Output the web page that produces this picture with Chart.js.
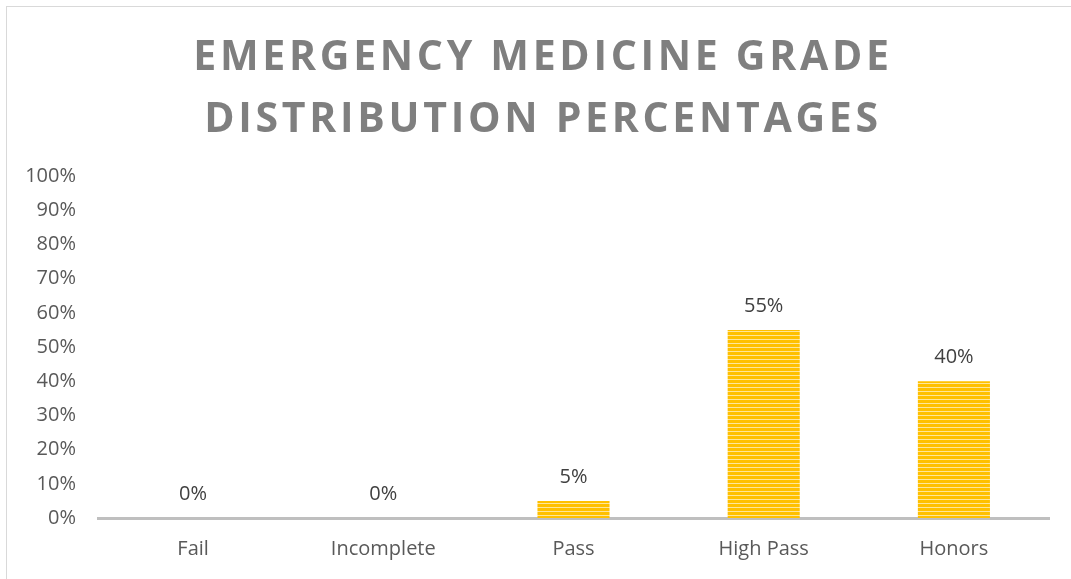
<!DOCTYPE html>
<html>
<head>
<meta charset="utf-8">
<script src="https://cdn.jsdelivr.net/npm/chart.js@4.4.0/dist/chart.umd.min.js"></script>
<style>
    html, body { margin: 0; padding: 0; background: #fff; overflow: hidden; }
    #frame { position: absolute; left: 6px; top: 6px; width: 1100px; height: 600px; border: 1px solid #d9d9d9; }
    #wrap { position: absolute; left: 0; top: 0; width: 1071px; height: 579px; }
</style>
</head>
<body>
<div id="frame"></div>
<div id="wrap"><canvas id="grap" width="1071" height="579"></canvas></div>
<script>
const titulo = ["EMERGENCY MEDICINE GRADE", "DISTRIBUTION PERCENTAGES"]
const notas = ["Fail", "Incomplete", "Pass", "High Pass", "Honors"]
const percentuais = [0, 0, 5, 55, 40]
const ticksY = [0, 10, 20, 30, 40, 50, 60, 70, 80, 90, 100]

// listras horizontais das barras
function criarListras(ctx) {
    const c = document.createElement('canvas')
    c.width = 4
    c.height = 4
    const p = c.getContext('2d')
    p.fillStyle = '#ffc000'
    p.fillRect(0, 0, 4, 4)
    p.fillStyle = '#ffe699'
    p.fillRect(0, 3, 4, 1)
    return ctx.createPattern(c, 'repeat')
}

const tituloPlugin = {
    id: 'tituloEspacado',
    afterDraw(chart) {
        const ctx = chart.ctx
        ctx.save()
        ctx.font = 'bold 41px "Open Sans"'
        ctx.fillStyle = '#7f7f7f'
        ctx.textAlign = 'center'
        ctx.textBaseline = 'middle'
        ctx.letterSpacing = '3.7px'
        titulo.forEach((linha, i) => {
            ctx.fillText(linha, 543, 58 + i * 62)
        })
        ctx.restore()
    }
}

const rotulosPlugin = {
    id: 'rotulos',
    afterDatasetsDraw(chart) {
        const ctx = chart.ctx
        const meta = chart.getDatasetMeta(0)
        ctx.save()
        ctx.font = '20px "Open Sans"'
        ctx.fillStyle = '#404040'
        ctx.textAlign = 'center'
        ctx.textBaseline = 'middle'
        meta.data.forEach((bar, i) => {
            ctx.fillText(percentuais[i] + '%', bar.x, bar.y - 24)
        })
        ctx.restore()
    }
}

function criarGraf() {
    const ctx = document.getElementById('grap').getContext('2d')

    new Chart(ctx, {
        type: 'bar',
        data: {
            labels: notas,
            datasets: [{
                data: percentuais,
                backgroundColor: criarListras(ctx),
                borderWidth: 0,
                barPercentage: 0.379,
                categoryPercentage: 1
            }]
        },
        plugins: [tituloPlugin, rotulosPlugin],
        options: {
            responsive: false,
            maintainAspectRatio: false,
            animation: false,
            layout: {
                padding: { top: 176, right: 22, bottom: 0, left: 0 }
            },
            plugins: {
                legend: { display: false },
                tooltip: { enabled: false }
            },
            scales: {
                x: {
                    grid: { display: false, drawTicks: false },
                    border: { color: '#bfbfbf', width: 3 },
                    ticks: {
                        color: '#595959',
                        font: { family: 'Open Sans', size: 20 },
                        padding: 19
                    },
                    afterFit: scale => { scale.height = 61 }
                },
                y: {
                    min: 0,
                    max: 100,
                    grid: { display: false, drawTicks: false },
                    border: { display: false },
                    afterBuildTicks: scale => {
                        scale.ticks = ticksY.map(v => ({ value: v }))
                    },
                    ticks: {
                        color: '#595959',
                        font: { family: 'Open Sans', size: 20 },
                        padding: 22,
                        callback: function (value) {
                            return value + "%"
                        }
                    },
                    afterFit: scale => { scale.width = 98 }
                }
            }
        }
    })
}

criarGraf()
</script>
</body>
</html>
